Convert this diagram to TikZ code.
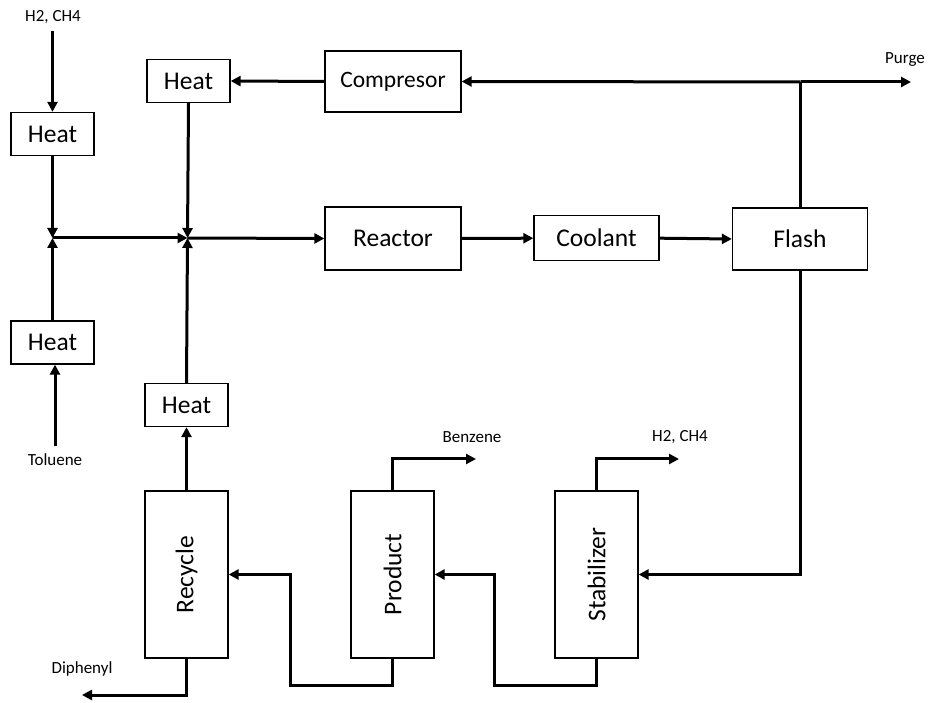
\documentclass[tikz,border=0pt]{standalone}
\usepackage{fontspec}
\setmainfont{Carlito}
\usetikzlibrary{arrows.meta}
\begin{document}
\begin{tikzpicture}[x=1pt,y=-1pt,
  box/.style={draw, line width=1.3pt, inner sep=0pt, font=\fontsize{25.5}{30}\selectfont},
  arr/.style={line width=3pt, -{Triangle[length=10pt,width=10pt]}},
  ln/.style={line width=3pt},
  lbl/.style={font=\fontsize{17}{20}\selectfont, inner sep=0pt}]
\useasboundingbox[fill=white] (0,0) rectangle (930,703);
% boxes
\node[box, minimum width=83pt, minimum height=43pt] (heat1) at (52.5,134) {Heat};
\node[box, minimum width=83pt, minimum height=43pt] (heat2) at (52.5,342.5) {Heat};
\node[box, minimum width=83pt, minimum height=43pt] (heat3) at (188.5,81) {Heat};
\node[box, minimum width=83pt, minimum height=43pt] (heat4) at (186.5,405) {Heat};
\node[box, minimum width=136pt, minimum height=61pt, font=\fontsize{23.5}{28}\selectfont] (comp) at (393,81.5) {Compresor};
\node[box, minimum width=136pt, minimum height=63pt] (reac) at (393,238.5) {Reactor};
\node[box, minimum width=125pt, minimum height=45pt] (cool) at (596.5,238.2) {Coolant};
\node[box, minimum width=135pt, minimum height=62pt] (flash) at (800,239) {Flash};
\node[box, minimum width=83pt, minimum height=167pt] (rec) at (186.5,574.5) {\rotatebox{90}{Recycle}};
\node[box, minimum width=83pt, minimum height=167pt] (prod) at (392.5,574.5) {\rotatebox{90}{Product}};
\node[box, minimum width=83pt, minimum height=167pt] (stab) at (596.5,574.5) {\rotatebox{90}{Stabilizer}};
% labels
\node[lbl] (lh2a) at (53,17) {H2, CH4};
\node[lbl] (ltol) at (55,460) {Toluene};
\node[lbl] (lpurge) at (905,60) {Purge};
\node[lbl] (lbenz) at (472,437) {Benzene};
\node[lbl] (lh2b) at (680,437) {H2, CH4};
\node[lbl] (ldiph) at (82,669) {Diphenyl};
% coordinates
\coordinate (h2in) at (52.5,31);
\coordinate (tol) at (55,446);
\coordinate (j1) at (52.5,238);
\coordinate (j2) at (187.5,238);
\coordinate (t) at (800.5,82);
\coordinate (purge) at (911,82);
\coordinate (h2out) at (679,459);
\coordinate (benz) at (476,459);
\coordinate (c1) at (494,685);
\coordinate (c2) at (290,685);
\coordinate (diph) at (82,695);
% connectors
\draw[arr] (h2in) -- (heat1.north);
\draw[arr] (heat1.south) -- (j1);
\draw[arr] (heat2.north) -- (j1);
\draw[arr] (tol) -- (tol |- heat2.south);
\draw[arr] (j1) -- (j2);
\draw[arr] (heat3.south) -- (j2);
\draw[arr] (heat4.north) -- (j2);
\draw[arr] (j2) -- (reac.west);
\draw[arr] (comp.west) -- (heat3.east);
\draw[arr] (t) -- (comp.east);
\draw[arr] (t) -- (purge);
\draw[ln] (flash.north) -- (flash.north |- t);
\draw[arr] (reac.east) -- (cool.west);
\draw[arr] (cool.east) -- (flash.west);
\draw[arr] (flash.south) |- (stab.east);
\draw[arr] (stab.north) |- (h2out);
\draw[arr] (prod.north) |- (benz);
\draw[arr] (stab.south) |- (c1) |- (prod.east);
\draw[arr] (prod.south) |- (c2) |- (rec.east);
\draw[arr] (rec.south) |- (diph);
\draw[arr] (rec.north) -- (heat4.south);
\end{tikzpicture}
\end{document}
